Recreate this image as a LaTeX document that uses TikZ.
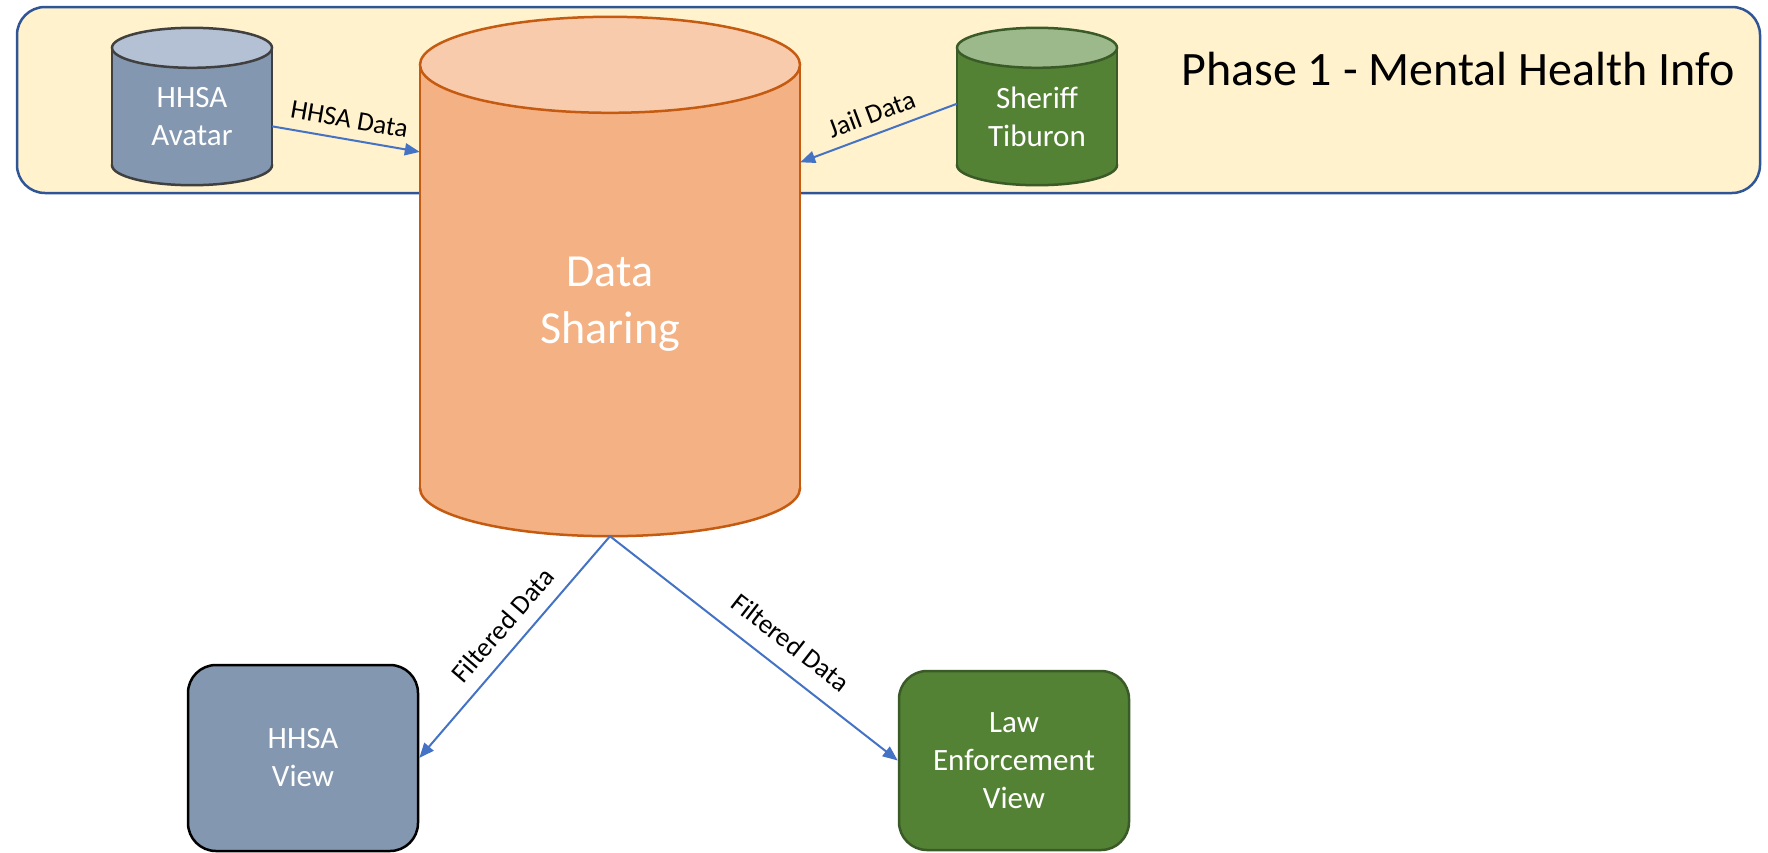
\documentclass[tikz,border=0pt]{standalone}
\usepackage{fontspec}
\setmainfont{Carlito}
\usetikzlibrary{arrows.meta,calc,backgrounds}
\definecolor{grpfill}{HTML}{FFF2CC}
\definecolor{grpborder}{HTML}{2F5597}
\definecolor{blueb}{HTML}{8497B0}
\definecolor{bluet}{HTML}{B4C0D3}
\definecolor{grayb}{HTML}{404040}
\definecolor{orb}{HTML}{F4B183}
\definecolor{ort}{HTML}{F8CBAD}
\definecolor{orborder}{HTML}{C55A11}
\definecolor{grb}{HTML}{548235}
\definecolor{grt}{HTML}{9BB98A}
\definecolor{grborder}{HTML}{3A5A27}
\definecolor{arrowc}{HTML}{4472C4}
\newcommand\drawcyl[6]{%
  \fill[#4,draw=#6,line width=2.5pt] (#1.south) ellipse [x radius=#2, y radius=#3];
  \fill[#4] ($(#1.north west)+(0,-#3)$) rectangle (#1.south east);
  \draw[#6,line width=2.5pt] ($(#1.north west)+(0,-#3)$) -- (#1.south west)
        ($(#1.north east)+(0,-#3)$) -- (#1.south east);
  \fill[#5,draw=#6,line width=2.5pt] ($(#1.north)+(0,-#3)$) ellipse [x radius=#2, y radius=#3];
}
\begin{document}
\begin{tikzpicture}[x=1pt,y=-1pt,
  bodytext/.style={draw=none, inner sep=0pt, text=white, align=center, font=\fontsize{31}{38}\selectfont},
  arr/.style={draw=arrowc, line width=2pt, -{Triangle[length=15pt,width=12pt]}},
  lbl/.style={font=\fontsize{27}{32}\selectfont, inner sep=0pt, sloped, text=black},
  viewbox/.style={rounded corners=28pt, line width=2.5pt, inner sep=0pt, text=white, align=center, font=\fontsize{31}{38}\selectfont}]
\useasboundingbox (0,0) rectangle (1768,852);

\node[bodytext, minimum width=160pt, minimum height=97pt] (hhsa) at (192,116.5) {HHSA\\Avatar};
\node[bodytext, minimum width=160pt, minimum height=97pt] (sheriff) at (1037,116.5) {Sheriff\\Tiburon};
\node[bodytext, minimum width=380pt, minimum height=375pt] (ds) at (610,300.5) {};
\node[bodytext, font=\fontsize{46}{57}\selectfont, anchor=base] (dstext) at (610,343) {Data\\Sharing};
\node[anchor=base, font=\fontsize{48}{58}\selectfont] (phase) at (1458,85) {Phase 1 - Mental Health Info};
\node[viewbox, fill=blueb, draw=black, minimum width=230pt, minimum height=186pt] (hview) at (303,758) {HHSA\\View};
\node[viewbox, fill=grb, draw=grborder, minimum width=230pt, minimum height=179pt] (law) at (1014,760.5) {Law\\Enforcement\\View};
\coordinate (dsb) at ($(ds.south)+(0,48)$);

\begin{scope}[on background layer]
  \node[draw=grpborder, fill=grpfill, line width=2.5pt, rounded corners=28pt, minimum width=1743pt, minimum height=186pt, inner sep=0pt] (grp) at (888.5,100) {};
  \drawcyl{hhsa}{80}{20}{blueb}{bluet}{grayb}
  \drawcyl{sheriff}{80}{20}{grb}{grt}{grborder}
  \drawcyl{ds}{190}{48}{orb}{ort}{orborder}
\end{scope}

\draw[arr] (hhsa.-7) -- node[lbl, above=10pt] {HHSA Data} (ds.142);
\draw[arr] (sheriff.171) -- node[lbl, above=10pt] {Jail Data} (ds.36.5);
\draw[arr] (dsb) -- node[lbl, pos=0.47, above=13pt] {Filtered Data} (hview.east);
\draw[arr] (dsb) -- node[lbl, pos=0.57, above=17pt] {Filtered Data} (law.west);
\end{tikzpicture}
\end{document}
